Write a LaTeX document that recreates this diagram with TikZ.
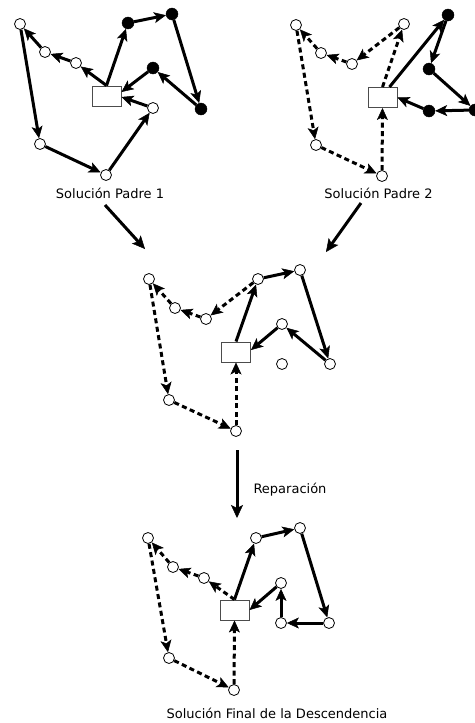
\documentclass[tikz,border=0pt]{standalone}
\usepackage{fontspec}
\setmainfont{DejaVu Sans}
\usetikzlibrary{arrows.meta}
\begin{document}
\begin{tikzpicture}[x=1pt,y=-1pt,
  wn/.style={circle,draw=black,line width=0.8pt,fill=white,minimum size=11pt,inner sep=0pt},
  bn/.style={circle,draw=black,fill=black,minimum size=12pt,inner sep=0pt},
  depot/.style={rectangle,draw=black!70,line width=1pt,fill=white,minimum width=29pt,minimum height=20pt,inner sep=0pt},
  sol/.style={line width=3pt,-{Stealth[length=12pt,width=11pt,inset=3pt,line width=0.5pt]}},
  dsh/.style={sol,dash pattern=on 5pt off 3.5pt},
  lbl/.style={font=\fontsize{13pt}{15pt}\selectfont,anchor=base},
  big/.style={line width=3pt,-{Stealth[length=13pt,width=12pt,inset=3pt,line width=0.5pt]}}
]
\useasboundingbox (0,0) rectangle (474,723);

% ---------- Parent 1 ----------
\node[depot] (p1d) at (106.5,96) {};
\node[wn] (p1a) at (20,24) {};
\node[wn] (p1b) at (45,52) {};
\node[wn] (p1c) at (76,63) {};
\node[bn] (p1e) at (128,23) {};
\node[bn] (p1f) at (172,14) {};
\node[bn] (p1g) at (201,109) {};
\node[bn] (p1h) at (153,68) {};
\node[wn] (p1i) at (153,108) {};
\node[wn] (p1j) at (106,175) {};
\node[wn] (p1k) at (40,144) {};
\draw[sol] (p1d.north) -- (p1c);
\draw[sol] (p1c) -- (p1b);
\draw[sol] (p1b) -- (p1a);
\draw[sol] (p1a) -- (p1k);
\draw[sol] (p1k) -- (p1j);
\draw[sol] (p1j) -- (p1i);
\draw[sol] (p1i) -- ([yshift=-1pt]p1d.east);
\draw[sol] (p1d.north) -- (p1e);
\draw[sol] (p1e) -- (p1f);
\draw[sol] (p1f) -- (p1g);
\draw[sol] (p1g) -- (p1h);
\draw[sol] (p1h) -- ([yshift=4pt]p1d.east);
\node[lbl] (t1) at (110,198) {Solución Padre 1};

% ---------- Parent 2 ----------
\node[depot] (p2d) at (382.5,97.5) {};
\node[wn] (p2a) at (296,25) {};
\node[wn] (p2b) at (321,53) {};
\node[wn] (p2c) at (352,64) {};
\node[wn] (p2x) at (404,24) {};
\node[bn] (p2e) at (448,15) {};
\node[bn] (p2f) at (429,69) {};
\node[bn] (p2g) at (475,110) {};
\node[bn] (p2h) at (429,111) {};
\node[wn] (p2j) at (316,145) {};
\node[wn] (p2i) at (382,176) {};
\draw[dsh] (p2d.north) -- (p2x);
\draw[dsh] (p2x) -- (p2c);
\draw[dsh] (p2c) -- (p2b);
\draw[dsh] (p2b) -- (p2a);
\draw[dsh] (p2a) -- (p2j);
\draw[dsh] (p2j) -- (p2i);
\draw[dsh] (p2i) -- (p2d.south);
\draw[sol] ([xshift=7pt]p2d.north) -- (p2e);
\draw[sol] (p2e) -- (p2f);
\draw[sol] (p2f) -- (p2g);
\draw[sol] (p2g) -- (p2h);
\draw[sol] (p2h) -- (p2d.east);
\node[lbl] (t2) at (378.5,198) {Solución Padre 2};

% ---------- arrows to child ----------
\coordinate (l1) at (105,205);
\coordinate (l2) at (145,249);
\coordinate (r1) at (361,203);
\coordinate (r2) at (326,252);
\draw[big] (l1) -- (l2);
\draw[big] (r1) -- (r2);

% ---------- Child ----------
\node[depot] (p3d) at (236,352) {};
\node[wn] (p3a) at (149,279) {};
\node[wn] (p3b) at (175,308) {};
\node[wn] (p3c) at (206,319) {};
\node[wn] (p3x) at (258,279) {};
\node[wn] (p3e) at (300,270) {};
\node[wn] (p3f) at (330,364) {};
\node[wn] (p3g) at (282,324) {};
\node[wn] (p3k) at (282,364) {};
\node[wn] (p3j) at (169,400) {};
\node[wn] (p3i) at (236,431) {};
\draw[dsh] (p3x) -- (p3c);
\draw[dsh] (p3c) -- (p3b);
\draw[dsh] (p3b) -- (p3a);
\draw[dsh] (p3a) -- (p3j);
\draw[dsh] (p3j) -- (p3i);
\draw[dsh] (p3i) -- (p3d.south);
\draw[sol] (p3d.north) -- (p3x);
\draw[sol] (p3x) -- (p3e);
\draw[sol] (p3e) -- (p3f);
\draw[sol] (p3f) -- (p3g);
\draw[sol] (p3g) -- ([yshift=2pt]p3d.east);

% ---------- repair ----------
\coordinate (m1) at (237,450);
\coordinate (m2) at (237,518);
\draw[big] (m1) -- (m2);
\node[lbl,anchor=base west] (t3) at (250,493) {Reparación};

% ---------- Final ----------
\node[depot] (p4d) at (234.5,610) {};
\node[wn] (p4a) at (148,538) {};
\node[wn] (p4b) at (173,567) {};
\node[wn] (p4c) at (204,578) {};
\node[wn] (p4x) at (256,538) {};
\node[wn] (p4e) at (300,528) {};
\node[wn] (p4f) at (329,623) {};
\node[wn] (p4g) at (281,623) {};
\node[wn] (p4h) at (281,583) {};
\node[wn] (p4j) at (169,658) {};
\node[wn] (p4i) at (234,690) {};
\draw[dsh] (p4d.north) -- (p4c);
\draw[dsh] (p4c) -- (p4b);
\draw[dsh] (p4b) -- (p4a);
\draw[dsh] (p4a) -- (p4j);
\draw[dsh] (p4j) -- (p4i);
\draw[dsh] (p4i) -- (p4d.south);
\draw[sol] (p4d.north) -- (p4x);
\draw[sol] (p4x) -- (p4e);
\draw[sol] (p4e) -- (p4f);
\draw[sol] (p4f) -- (p4g);
\draw[sol] (p4g) -- (p4h);
\draw[sol] (p4h) -- (p4d.east);
\node[lbl] (t4) at (277,718) {Solución Final de la Descendencia};
\end{tikzpicture}
\end{document}
